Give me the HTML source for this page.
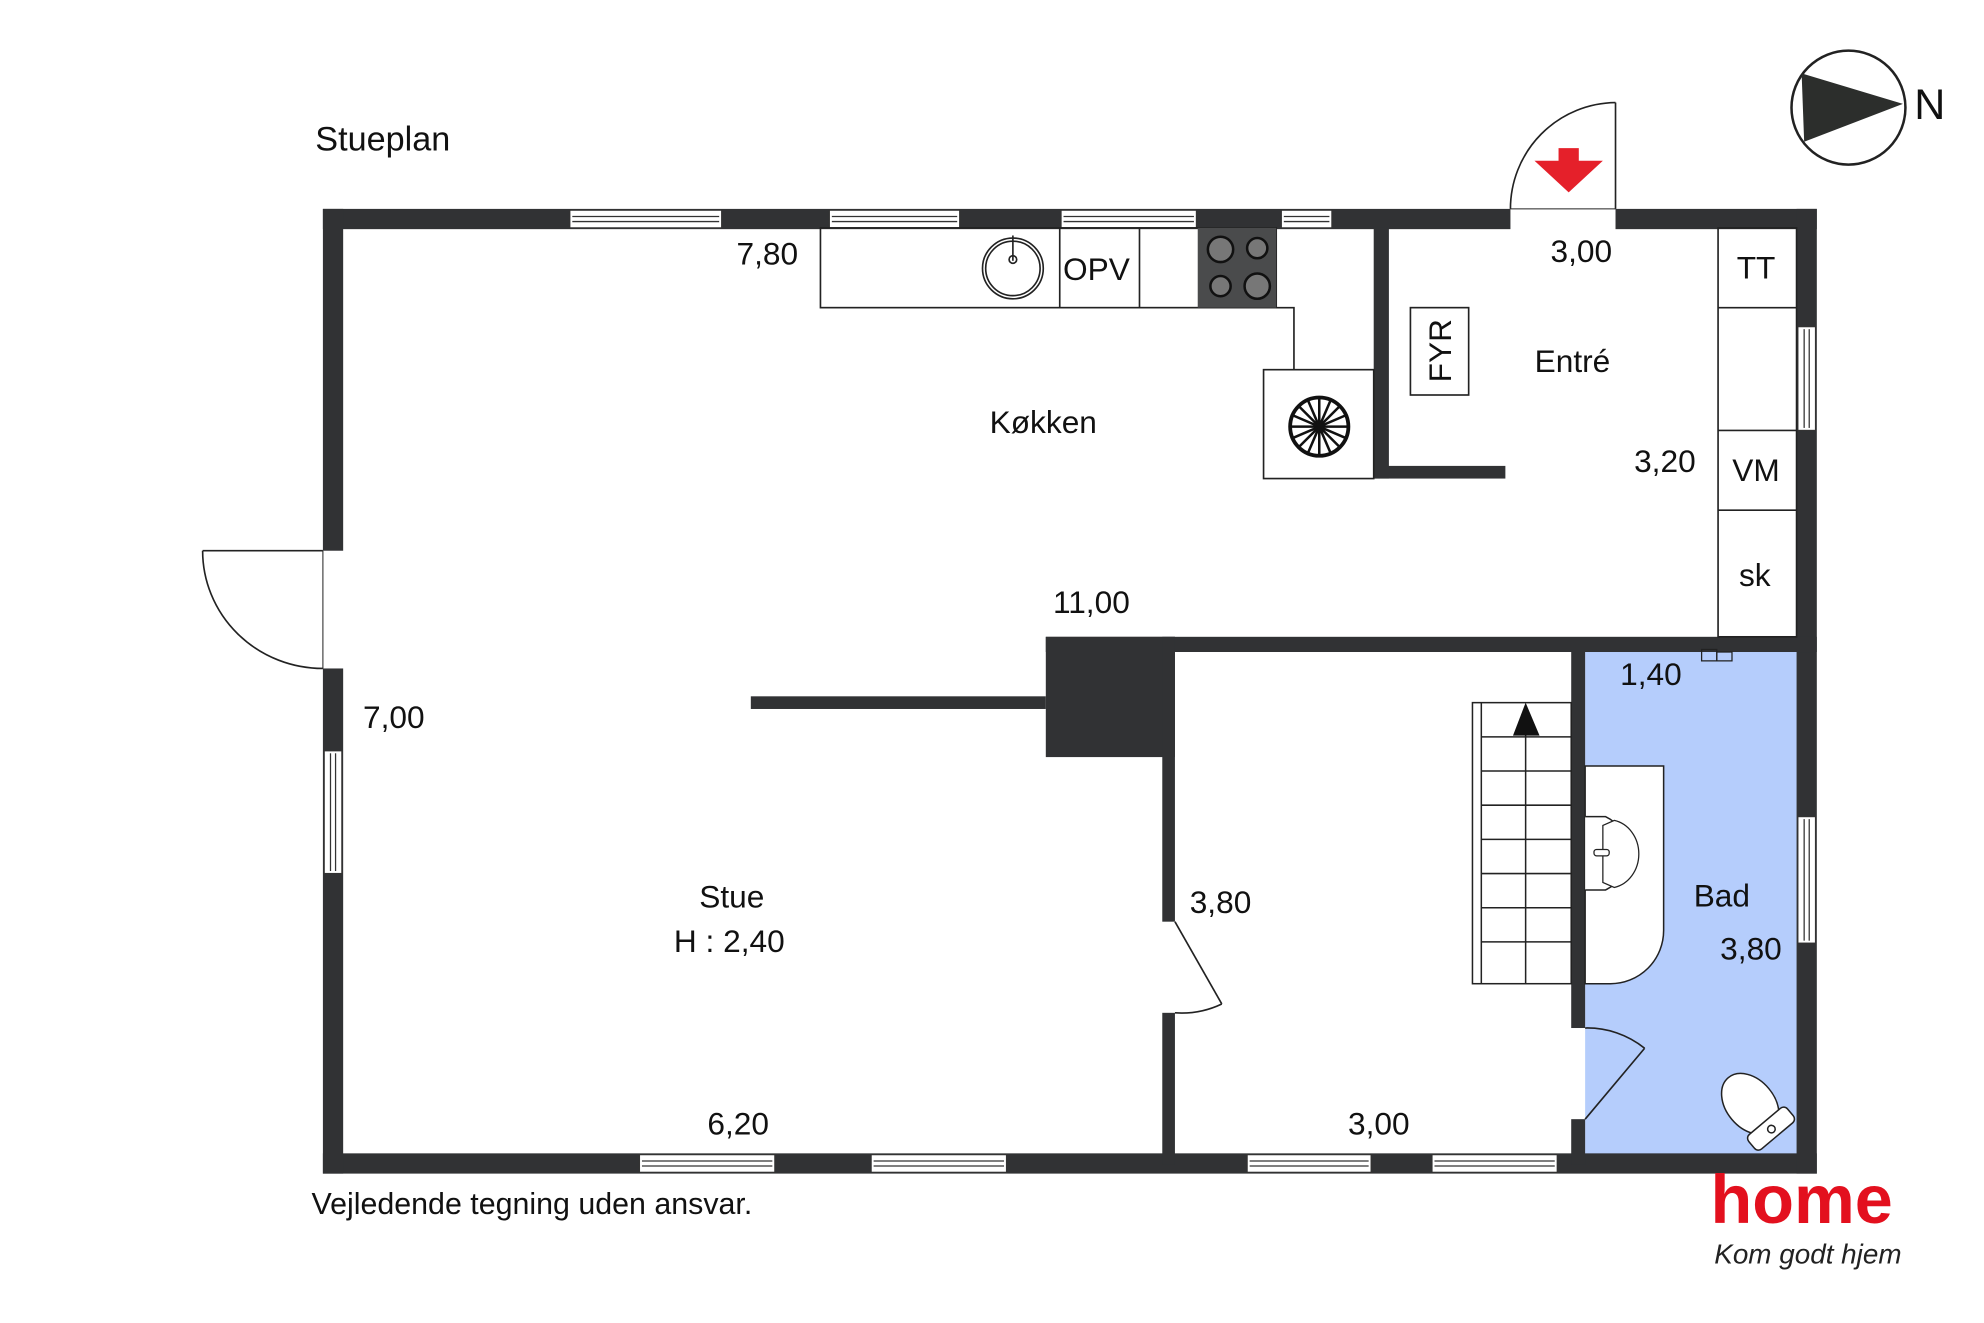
<!DOCTYPE html>
<html><head><meta charset="utf-8"><style>
html,body{margin:0;padding:0;background:#fff;}
svg{display:block}
text{font-family:"Liberation Sans",sans-serif;fill:#111}
</style></head><body>
<svg width="1984" height="1323" viewBox="0 0 1567 1045" xmlns="http://www.w3.org/2000/svg">
<rect width="1567" height="1045" fill="#fff"/>
<text x="249" y="119" font-size="27">Stueplan</text>

<!-- compass -->
<circle cx="1460" cy="85" r="45" fill="#fff" stroke="#222" stroke-width="2"/>
<polygon points="1423,58 1503,82 1425,112" fill="#2c2e2c"/>
<text x="1512" y="94" font-size="34">N</text>

<!-- bathroom fill -->
<rect x="1252" y="515" width="167" height="397" fill="#b5cdfc"/>

<!-- outer walls -->
<g fill="#313234">
<rect x="255" y="165" width="938" height="16"/>
<rect x="1276" y="165" width="159" height="16"/>
<rect x="255" y="911" width="1180" height="16"/>
<rect x="255" y="165" width="16" height="270"/>
<rect x="255" y="528" width="16" height="399"/>
<rect x="1419" y="165" width="16" height="762"/>
<rect x="1085" y="180" width="12" height="198"/>
<rect x="1085" y="368" width="104" height="10"/>
<rect x="826" y="503" width="609" height="12"/>
<rect x="826" y="503" width="102" height="95"/>
<rect x="593" y="550" width="233" height="10"/>
<rect x="918" y="503" width="10" height="225"/>
<rect x="918" y="800" width="10" height="120"/>
<rect x="1241" y="515" width="11" height="297"/>
<rect x="1241" y="884" width="11" height="36"/>
</g>

<!-- windows -->
<g fill="#fff" stroke="#333" stroke-width="1">
<rect x="450" y="166" width="120" height="14"/><line x1="452" y1="171" x2="568" y2="171"/><line x1="452" y1="175" x2="568" y2="175"/>
<rect x="655" y="166" width="103" height="14"/><line x1="657" y1="171" x2="756" y2="171"/><line x1="657" y1="175" x2="756" y2="175"/>
<rect x="838" y="166" width="107" height="14"/><line x1="840" y1="171" x2="943" y2="171"/><line x1="840" y1="175" x2="943" y2="175"/>
<rect x="1012" y="166" width="40" height="14"/><line x1="1014" y1="171" x2="1050" y2="171"/><line x1="1014" y1="175" x2="1050" y2="175"/>
<rect x="505" y="912" width="107" height="14"/><line x1="507" y1="917" x2="610" y2="917"/><line x1="507" y1="921" x2="610" y2="921"/>
<rect x="688" y="912" width="107" height="14"/><line x1="690" y1="917" x2="793" y2="917"/><line x1="690" y1="921" x2="793" y2="921"/>
<rect x="985" y="912" width="98" height="14"/><line x1="987" y1="917" x2="1081" y2="917"/><line x1="987" y1="921" x2="1081" y2="921"/>
<rect x="1131" y="912" width="99" height="14"/><line x1="1133" y1="917" x2="1228" y2="917"/><line x1="1133" y1="921" x2="1228" y2="921"/>
<rect x="256" y="593" width="14" height="97"/><line x1="261" y1="595" x2="261" y2="688"/><line x1="265" y1="595" x2="265" y2="688"/>
<rect x="1420" y="258" width="14" height="82"/><line x1="1425" y1="260" x2="1425" y2="338"/><line x1="1429" y1="260" x2="1429" y2="338"/>
<rect x="1420" y="645" width="14" height="100"/><line x1="1425" y1="647" x2="1425" y2="743"/><line x1="1429" y1="647" x2="1429" y2="743"/>
</g>

<g fill="none" stroke="#222" stroke-width="1.3">
<line x1="1276" y1="81" x2="1276" y2="165"/>
<path d="M1276,81 A84,84 0 0 0 1193,165"/>
<line x1="1193" y1="165" x2="1276" y2="165" stroke-width="0.8"/>
<line x1="160" y1="435" x2="255" y2="435"/>
<path d="M160,435 A95,93 0 0 0 255,528"/>
<line x1="255" y1="435" x2="255" y2="528" stroke-width="0.8"/>
<line x1="928" y1="728" x2="965" y2="793"/>
<path d="M965,793 A74,74 0 0 1 928,800"/>
<line x1="1252" y1="884" x2="1299" y2="828"/>
<path d="M1252,812 A72,72 0 0 1 1299,828"/>
<rect x="648" y="180" width="360" height="63"/>
<line x1="837" y1="180" x2="837" y2="243"/>
<line x1="900" y1="180" x2="900" y2="243"/>
<polyline points="1008,243 1022,243 1022,292"/>
<rect x="998" y="292" width="87" height="86"/>
<circle cx="800" cy="212" r="24"/><circle cx="800" cy="212" r="21.5"/>
<line x1="800" y1="186" x2="800" y2="206"/><circle cx="800" cy="205" r="3"/>
<rect x="1114" y="243" width="46" height="69"/>
<rect x="1357" y="180" width="62" height="323"/>
<line x1="1357" y1="243" x2="1419" y2="243"/>
<line x1="1357" y1="340" x2="1419" y2="340"/>
<line x1="1357" y1="403" x2="1419" y2="403"/>
</g>
<rect x="946" y="180" width="62" height="63" fill="#4a4b4c"/>
<g fill="#777" stroke="#111" stroke-width="2">
<circle cx="964" cy="197" r="10"/><circle cx="993" cy="196" r="8"/>
<circle cx="964" cy="226" r="8"/><circle cx="993" cy="226" r="10"/>
</g>
<g stroke="#111" fill="none">
<circle cx="1042" cy="337" r="23" stroke-width="3"/>
<g stroke-width="2">
<line x1="1019" y1="337" x2="1065" y2="337"/><line x1="1042" y1="314" x2="1042" y2="360"/>
<line x1="1026" y1="321" x2="1058" y2="353"/><line x1="1058" y1="321" x2="1026" y2="353"/>
<line x1="1021" y1="328" x2="1063" y2="346"/><line x1="1021" y1="346" x2="1063" y2="328"/>
<line x1="1033" y1="316" x2="1051" y2="358"/><line x1="1051" y1="316" x2="1033" y2="358"/>
</g></g>
<polygon points="1231,117 1247,117 1247,127 1266,127 1239,152 1212,127 1231,127" fill="#e5202a"/>

<g fill="#fff" stroke="#222" stroke-width="1.2">
<rect x="1163" y="555" width="78" height="222"/>
<line x1="1170" y1="555" x2="1170" y2="777"/>
<line x1="1205" y1="580" x2="1205" y2="777"/>
<line x1="1170" y1="582" x2="1241" y2="582"/>
<line x1="1170" y1="609" x2="1241" y2="609"/>
<line x1="1170" y1="636" x2="1241" y2="636"/>
<line x1="1170" y1="663" x2="1241" y2="663"/>
<line x1="1170" y1="690" x2="1241" y2="690"/>
<line x1="1170" y1="717" x2="1241" y2="717"/>
<line x1="1170" y1="744" x2="1241" y2="744"/>
</g>
<polygon points="1205,555 1195,581 1216,581" fill="#111"/>

<path d="M1252,605 L1314,605 L1314,735 A42,42 0 0 1 1272,777 L1252,777 Z" fill="#fff" stroke="#222" stroke-width="1.2"/>
<path d="M1252,645 L1268,645 A32,32 0 0 1 1268,703 L1252,703" fill="#fff" stroke="#222" stroke-width="1.2"/>
<path d="M1266,652 L1275,648 A24,27 0 0 1 1275,701 L1266,697 Z" fill="#fff" stroke="#222" stroke-width="1"/>
<rect x="1259" y="671" width="12" height="5" rx="2" fill="#fff" stroke="#222" stroke-width="1"/>
<g transform="translate(1385,875) rotate(-40)" fill="#fff" stroke="#222" stroke-width="1.2">
<ellipse cx="0" cy="-4" rx="19" ry="27"/>
<rect x="-20" y="14" width="40" height="15" rx="4"/>
<circle cx="0" cy="22" r="3"/>
</g>
<g fill="none" stroke="#222" stroke-width="1"><rect x="1344" y="513" width="12" height="9"/><rect x="1356" y="515" width="12" height="7"/></g>

<g font-size="25" text-anchor="middle">
<text x="606" y="209">7,80</text>
<text x="866" y="221">OPV</text>
<text x="824" y="342">Køkken</text>
<text x="1249" y="207">3,00</text>
<text x="1242" y="294">Entré</text>
<text x="1315" y="373">3,20</text>
<text x="1387" y="220">TT</text>
<text x="1387" y="380">VM</text>
<text x="1386" y="463">sk</text>
<text x="862" y="484">11,00</text>
<text x="311" y="575">7,00</text>
<text x="1304" y="541">1,40</text>
<text x="578" y="717">Stue</text>
<text x="576" y="752">H : 2,40</text>
<text x="964" y="721">3,80</text>
<text x="1360" y="716">Bad</text>
<text x="1383" y="758">3,80</text>
<text x="583" y="896">6,20</text>
<text x="1089" y="896">3,00</text>
<text transform="translate(1146,277) rotate(-90)">FYR</text>
</g>
<text x="246" y="959" font-size="24">Vejledende tegning uden ansvar.</text>
<text x="1351" y="966" font-size="54" font-weight="bold" style="fill:#e3101e">home</text>
<text x="1354" y="998" font-size="22" font-style="italic" font-family="Liberation Serif,serif" style="fill:#222">Kom godt hjem</text>
</svg>
</body></html>
